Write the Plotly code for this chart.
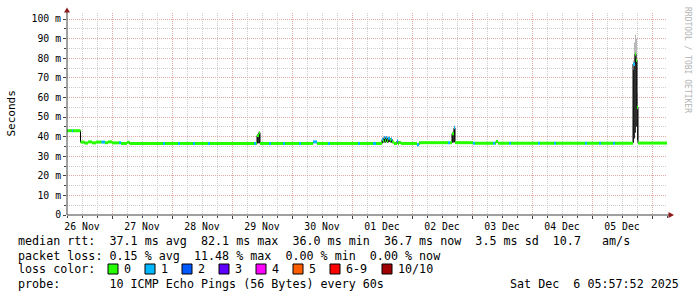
import pandas as pd
import plotly.graph_objects as go

# ---------------- data ----------------
START = pd.Timestamp("2025-11-26 06:00")
END = pd.Timestamp("2025-12-06 06:00")
BIN = pd.Timedelta(minutes=24)

# median rtt steps (start time, ms, packets lost out of 10)
step_time = [
    "2025-11-26 06:00", "2025-11-26 08:00", "2025-11-26 08:24", "2025-11-26 11:24",
    "2025-11-26 13:00", "2025-11-26 14:24", "2025-11-26 16:00", "2025-11-26 17:36",
    "2025-11-26 19:48", "2025-11-26 21:12", "2025-11-26 22:24", "2025-11-27 00:00",
    "2025-11-27 02:48", "2025-11-27 03:36", "2025-11-27 06:00", "2025-11-27 07:00",
    "2025-11-27 20:24", "2025-11-27 21:12", "2025-11-28 02:24", "2025-11-28 03:12",
    "2025-11-28 08:24", "2025-11-28 09:12", "2025-11-28 14:24", "2025-11-28 15:12",
    "2025-11-29 08:48", "2025-11-29 09:36", "2025-11-29 10:00", "2025-11-29 10:48",
    "2025-11-29 11:12", "2025-11-29 14:48", "2025-11-29 15:36", "2025-11-29 20:24",
    "2025-11-29 21:12", "2025-11-30 02:48", "2025-11-30 03:36", "2025-11-30 08:24",
    "2025-11-30 10:00", "2025-11-30 14:24", "2025-11-30 15:12", "2025-12-01 02:24",
    "2025-12-01 03:12", "2025-12-01 08:24", "2025-12-01 09:36", "2025-12-01 12:00",
    "2025-12-01 12:24", "2025-12-01 12:48", "2025-12-01 13:12", "2025-12-01 13:36",
    "2025-12-01 14:00", "2025-12-01 14:24", "2025-12-01 15:12", "2025-12-01 15:36",
    "2025-12-01 16:00", "2025-12-01 16:48", "2025-12-01 18:00", "2025-12-01 18:24",
    "2025-12-01 18:48", "2025-12-01 19:36", "2025-12-02 02:00", "2025-12-02 02:48",
    "2025-12-02 14:24", "2025-12-02 15:12", "2025-12-02 16:00", "2025-12-02 16:48",
    "2025-12-02 17:12", "2025-12-03 00:24", "2025-12-03 01:12", "2025-12-03 08:24",
    "2025-12-03 09:12", "2025-12-03 09:36", "2025-12-03 10:24", "2025-12-03 14:48",
    "2025-12-03 15:36", "2025-12-04 02:24", "2025-12-04 03:12", "2025-12-04 08:48",
    "2025-12-04 09:36", "2025-12-04 21:12", "2025-12-04 22:00", "2025-12-05 02:48",
    "2025-12-05 03:36", "2025-12-05 08:24", "2025-12-05 09:12", "2025-12-05 16:24",
    "2025-12-05 17:12", "2025-12-05 17:36", "2025-12-05 18:00", "2025-12-05 18:24",
]
step_rtt = [
    43.0, 43.0, 43.0, 37.2,
    36.7, 37.3, 36.8, 37.2,
    37.2, 36.9, 37.3, 36.8,
    36.8, 36.5, 37.1, 36.5,
    36.5, 36.5, 36.5, 36.5,
    36.5, 36.5, 36.5, 36.5,
    36.5, 36.5, 40.5, 42.0,
    36.5, 36.5, 36.5, 36.5,
    36.5, 36.5, 36.5, 37.3,
    36.5, 36.5, 36.5, 36.5,
    36.5, 36.5, 36.5, 38.5,
    37.6, 39.5, 38.0, 39.6,
    37.8, 39.2, 38.2, 38.8,
    37.3, 36.5, 37.8, 36.4,
    37.0, 36.5, 35.8, 36.9,
    36.9, 36.9, 41.5, 44.5,
    36.9, 36.6, 36.6, 36.6,
    36.6, 37.5, 36.6, 36.6,
    36.6, 36.6, 36.6, 36.6,
    36.6, 36.6, 36.6, 36.6,
    36.6, 36.6, 36.6, 77.0,
    82.0, 79.0, 55.0, 36.7,
]
step_loss = [
    0, 1, 0, 0,
    0, 0, 0, 0,
    1, 0, 0, 0,
    1, 0, 0, 0,
    1, 0, 1, 0,
    1, 0, 1, 0,
    1, 0, 0, 0,
    0, 1, 0, 1,
    0, 1, 0, 1,
    0, 1, 0, 1,
    0, 1, 0, 1,
    0, 1, 0, 1,
    0, 1, 0, 1,
    0, 0, 1, 0,
    0, 0, 1, 0,
    1, 0, 0, 1,
    0, 1, 0, 1,
    0, 0, 0, 1,
    0, 1, 0, 1,
    0, 1, 0, 1,
    0, 1, 0, 1,
    0, 0, 0, 0,
]

# smoke (spread of the 10 pings) per 24-minute bin
smoke_time = [
    "2025-11-29 10:00", "2025-11-29 10:24", "2025-11-29 10:48",
    "2025-12-01 12:00", "2025-12-01 12:24", "2025-12-01 12:48", "2025-12-01 13:12",
    "2025-12-01 13:36", "2025-12-01 14:00", "2025-12-01 14:24", "2025-12-01 14:48",
    "2025-12-01 15:12", "2025-12-01 15:36", "2025-12-01 16:00",
    "2025-12-02 16:00", "2025-12-02 16:24", "2025-12-02 16:48",
    "2025-12-05 16:24", "2025-12-05 16:48", "2025-12-05 17:12", "2025-12-05 17:36",
    "2025-12-05 18:00",
]
smoke_lo = [
    36.5, 36.6, 36.6,
    36.8, 36.9, 37.0, 36.9, 37.1, 36.8, 37.0, 37.2, 37.0, 36.9, 36.7,
    36.8, 37.0, 37.2,
    37.0, 39.0, 42.0, 45.0, 38.0,
]
smoke_mid = [
    40.0, 41.0, 41.5,
    38.6, 38.2, 39.2, 38.5, 39.4, 38.0, 39.0, 39.1, 38.4, 38.7, 37.6,
    41.0, 42.0, 44.0,
    74.0, 76.0, 80.0, 78.0, 54.0,
]
smoke_hi = [
    41.5, 42.5, 42.5,
    39.8, 39.4, 40.0, 39.6, 40.1, 39.2, 39.9, 40.0, 39.3, 39.5, 38.4,
    42.5, 43.5, 45.5,
    79.0, 88.0, 92.0, 90.0, 62.0,
]

day_noon = [
    "2025-11-26 12:00", "2025-11-27 12:00", "2025-11-28 12:00", "2025-11-29 12:00",
    "2025-11-30 12:00", "2025-12-01 12:00", "2025-12-02 12:00", "2025-12-03 12:00",
    "2025-12-04 12:00", "2025-12-05 12:00",
]
day_labels = ["26 Nov", "27 Nov", "28 Nov", "29 Nov", "30 Nov",
              "01 Dec", "02 Dec", "03 Dec", "04 Dec", "05 Dec"]
y_tick_vals = [0, 10, 20, 30, 40, 50, 60, 70, 80, 90, 100]
y_tick_text = ["0", "10 m", "20 m", "30 m", "40 m", "50 m",
               "60 m", "70 m", "80 m", "90 m", "100 m"]

loss_labels = ["0", "1", "2", "3", "4", "5", "6-9", "10/10"]
loss_colors = ["#26ff00", "#00b8ff", "#0059ff", "#5e00ff",
               "#ff00ff", "#ff5e00", "#ff0000", "#a10000"]

stats_rtt = "median rtt:  37.1 ms avg  82.1 ms max  36.0 ms min  36.7 ms now  3.5 ms sd  10.7   am/s"
stats_loss = "packet loss: 0.15 % avg  11.48 % max  0.00 % min  0.00 % now"
probe_text = "probe:       10 ICMP Echo Pings (56 Bytes) every 60s"
stamp_text = "Sat Dec  6 05:57:52 2025"

# ---------------- layout geometry (pixels) ----------------
W, H = 697, 297
PL, PR, PT, PB = 67, 667, 13, 215
MONO = "DejaVu Sans Mono"


def px(xp):
    return (xp - PL) / (PR - PL)


def py(yp):
    return (PB - yp) / (PB - PT)


def loss_index(n):
    if n <= 5:
        return n
    if n < 10:
        return 6
    return 7


fig = go.Figure()

# ---- smoke ----
st = [pd.Timestamp(t) for t in smoke_time]
runs = []
cur = [0]
for i in range(1, len(st)):
    if st[i] - st[i - 1] > BIN:
        runs.append(cur)
        cur = [i]
    else:
        cur.append(i)
runs.append(cur)
for r in runs:
    xs = [st[i] for i in r] + [st[r[-1]] + BIN]
    lo = [smoke_lo[i] for i in r] + [smoke_lo[r[-1]]]
    mid = [smoke_mid[i] for i in r] + [smoke_mid[r[-1]]]
    hi = [smoke_hi[i] for i in r] + [smoke_hi[r[-1]]]
    fig.add_trace(go.Scatter(x=xs, y=lo, mode="lines", line=dict(width=0, shape="hv"),
                             showlegend=False, hoverinfo="skip"))
    fig.add_trace(go.Scatter(x=xs, y=mid, mode="lines", line=dict(width=0, shape="hv"),
                             fill="tonexty", fillcolor="#2e2e2e",
                             showlegend=False, hoverinfo="skip"))
    fig.add_trace(go.Scatter(x=xs, y=hi, mode="lines", line=dict(width=0, shape="hv"),
                             fill="tonexty", fillcolor="#b8b8b8",
                             showlegend=False, hoverinfo="skip"))

# ---- median (thin black connector) ----
tt = [pd.Timestamp(t) for t in step_time]
fig.add_trace(go.Scatter(x=tt + [END], y=step_rtt + [step_rtt[-1]], mode="lines",
                         line=dict(color="#000000", width=1, shape="hv"),
                         showlegend=False, hoverinfo="skip"))

# ---- median coloured by loss ----
ends = tt[1:] + [END]
for li in range(len(loss_colors)):
    xs, ys = [], []
    for i in range(len(tt)):
        if loss_index(step_loss[i]) == li:
            xs += [tt[i], ends[i], None]
            ys += [step_rtt[i], step_rtt[i], None]
    if xs:
        fig.add_trace(go.Scatter(x=xs, y=ys, mode="lines",
                                 line=dict(color=loss_colors[li], width=3),
                                 showlegend=False, hoverinfo="skip"))

# dummy trace so the label axis exists
fig.add_trace(go.Scatter(x=[START], y=[None], xaxis="x2", mode="lines",
                         showlegend=False, hoverinfo="skip"))

GRID_MAJ = "#e3a9a9"
GRID_MIN = "#cdcdcd"
DOTS = "1px,1px"

fig.update_layout(
    width=W, height=H,
    margin=dict(l=PL, r=W - PR, t=PT, b=H - PB),
    paper_bgcolor="white", plot_bgcolor="white",
    showlegend=False,
    font=dict(family=MONO, size=10, color="#000000"),
    xaxis=dict(
        type="date", range=[START, END],
        tick0="2025-11-26 00:00", dtick=86400000,
        showticklabels=False, ticks="outside", ticklen=3, tickcolor="#444444",
        showgrid=True, gridcolor=GRID_MAJ, griddash=DOTS, gridwidth=1,
        minor=dict(tick0="2025-11-26 00:00", dtick=21600000, showgrid=True,
                   gridcolor=GRID_MIN, griddash=DOTS, gridwidth=1,
                   ticks="outside", ticklen=2, tickcolor="#444444"),
        zeroline=False, showline=False, fixedrange=True,
    ),
    xaxis2=dict(
        type="date", range=[START, END], overlaying="x", anchor="y", side="bottom",
        tickvals=day_noon, ticktext=day_labels, ticks="", showgrid=False,
        zeroline=False, showline=False, ticklabelstandoff=4,
        tickfont=dict(family=MONO, size=9.8, color="#000000"),
    ),
    yaxis=dict(
        range=[0, 100 * (PB - PT) / (PB - 19)],
        tickvals=y_tick_vals, ticktext=y_tick_text,
        tickfont=dict(family=MONO, size=9.8, color="#000000"),
        ticks="outside", ticklen=3, tickcolor="#444444",
        showgrid=True, gridcolor=GRID_MAJ, griddash=DOTS, gridwidth=1,
        minor=dict(dtick=5, showgrid=True, gridcolor=GRID_MIN, griddash=DOTS,
                   gridwidth=1, ticks="outside", ticklen=2, tickcolor="#444444"),
        zeroline=False, showline=False, fixedrange=True,
    ),
)

# axis lines with arrows
AX = "#404040"
ARROW = "#8b1a1a"
fig.add_shape(type="line", xref="paper", yref="paper",
              x0=px(PL), x1=px(PL), y0=py(PB), y1=py(11), line=dict(color=AX, width=1))
fig.add_shape(type="line", xref="paper", yref="paper",
              x0=px(PL), x1=px(671), y0=py(PB), y1=py(PB), line=dict(color=AX, width=1))
fig.add_shape(type="path", xref="paper", yref="paper",
              path=f"M {px(64)} {py(12.5)} L {px(70)} {py(12.5)} L {px(67)} {py(7.5)} Z",
              fillcolor=ARROW, line=dict(color=ARROW, width=0))
fig.add_shape(type="path", xref="paper", yref="paper",
              path=f"M {px(668.5)} {py(212)} L {px(668.5)} {py(218)} L {px(674)} {py(215)} Z",
              fillcolor=ARROW, line=dict(color=ARROW, width=0))

ann = []
ann.append(dict(text="Seconds", x=px(10.5), y=py(114), xref="paper", yref="paper",
                xanchor="center", yanchor="middle",
                showarrow=False, textangle=-90, font=dict(family=MONO, size=11, color="#000")))
ann.append(dict(text="RRDTOOL / TOBI OETIKER", x=px(688), y=py(60), xref="paper", yref="paper",
                xanchor="center", yanchor="middle",
                showarrow=False, textangle=90, font=dict(family=MONO, size=8, color="#b4b4b4")))

LEG = 11.7
rows_y = [241, 255.5, 269, 283.5]


def text_ann(txt, xp, yp, anchor="left"):
    return dict(text=txt.replace(" ", "&nbsp;"), x=px(xp), y=py(yp), xref="paper", yref="paper",
                xanchor=anchor, yanchor="middle", showarrow=False,
                font=dict(family=MONO, size=LEG, color="#000000"))


ann.append(text_ann(stats_rtt, 16, rows_y[0]))
ann.append(text_ann(stats_loss, 16, rows_y[1]))
ann.append(text_ann("loss color:", 16, rows_y[2]))
ann.append(text_ann(probe_text, 16, rows_y[3]))
ann.append(text_ann(stamp_text, 681, rows_y[3], anchor="right"))

box_x = [108, 145, 182, 219, 256, 293, 330, 382]
for bx, lab, col in zip(box_x, loss_labels, loss_colors):
    fig.add_shape(type="rect", xref="paper", yref="paper",
                  x0=px(bx), x1=px(bx + 10), y0=py(rows_y[2] + 5), y1=py(rows_y[2] - 5),
                  fillcolor=col, line=dict(color="#000000", width=1))
    ann.append(text_ann(lab, bx + 14, rows_y[2]))

fig.update_layout(annotations=ann)
fig.write_html("out.html")
